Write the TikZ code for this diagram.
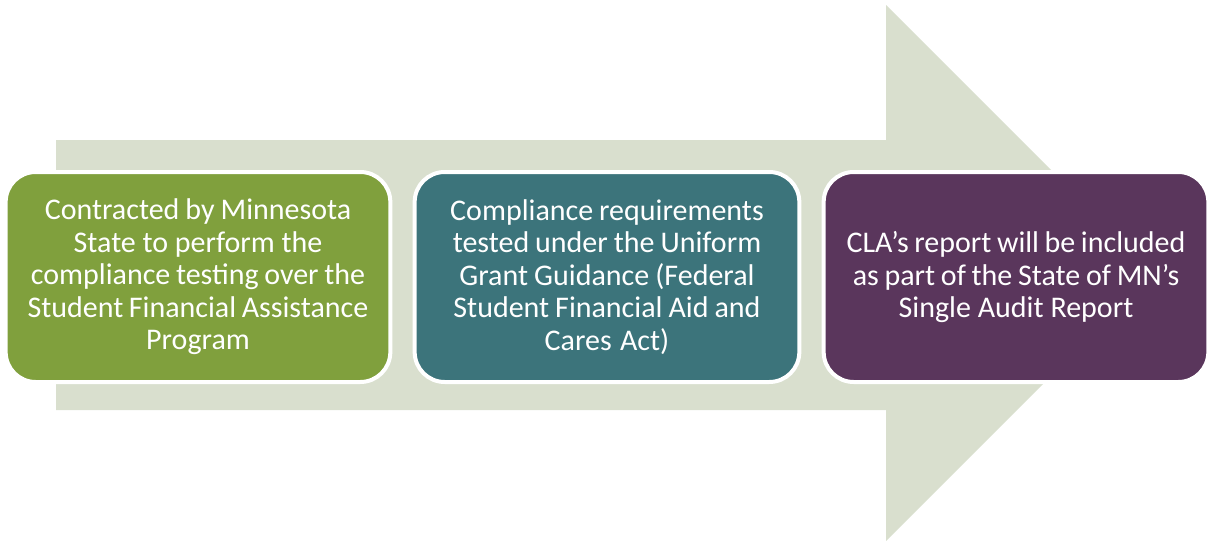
\documentclass[tikz,border=0pt]{standalone}
\usepackage{fontspec}
\setmainfont{Carlito}

\definecolor{ArrowSurface}{RGB}{217,223,206}
\definecolor{StepGreen}{RGB}{128,160,61}
\definecolor{StepTeal}{RGB}{60,116,123}
\definecolor{StepPurple}{RGB}{90,54,92}

\begin{document}
\begin{tikzpicture}[x=1pt,y=-1pt,
    stepbox/.style={draw=white, line width=4pt, rounded corners=30pt,
        minimum width=384pt, minimum height=210pt, text width=378pt,
        align=center, text=white, font=\fontsize{30}{32.5}\selectfont,
        execute at begin node={\spaceskip=0.17em plus 0.05em\relax}}]

    \useasboundingbox (0, 0) rectangle (1211, 541);

    \coordinate (A) at (56, 140);
    \coordinate (B) at (886, 140);
    \coordinate (C) at (886, 5);
    \coordinate (D) at (1154, 273);
    \coordinate (E) at (886, 541);
    \coordinate (F) at (886, 410);
    \coordinate (G) at (56, 410);

    \fill[ArrowSurface] (A) -- (B) -- (C) -- (D) -- (E) -- (F) -- (G) -- cycle;

    \node[stepbox, fill=StepGreen] (contract) at (198, 277)
        {Contracted by Minnesota\\State to perform the\\compliance testing over the\\Student Financial Assistance\\Program};
    \node[stepbox, fill=StepTeal] (tested) at (607, 277)
        {Compliance requirements\\tested under the Uniform\\Grant Guidance (Federal\\Student Financial Aid and\\Cares Act)};
    \node[stepbox, fill=StepPurple] (report) at (1016, 277)
        {CLA’s report will be included\\as part of the State of MN’s\\Single Audit Report};
\end{tikzpicture}
\end{document}
